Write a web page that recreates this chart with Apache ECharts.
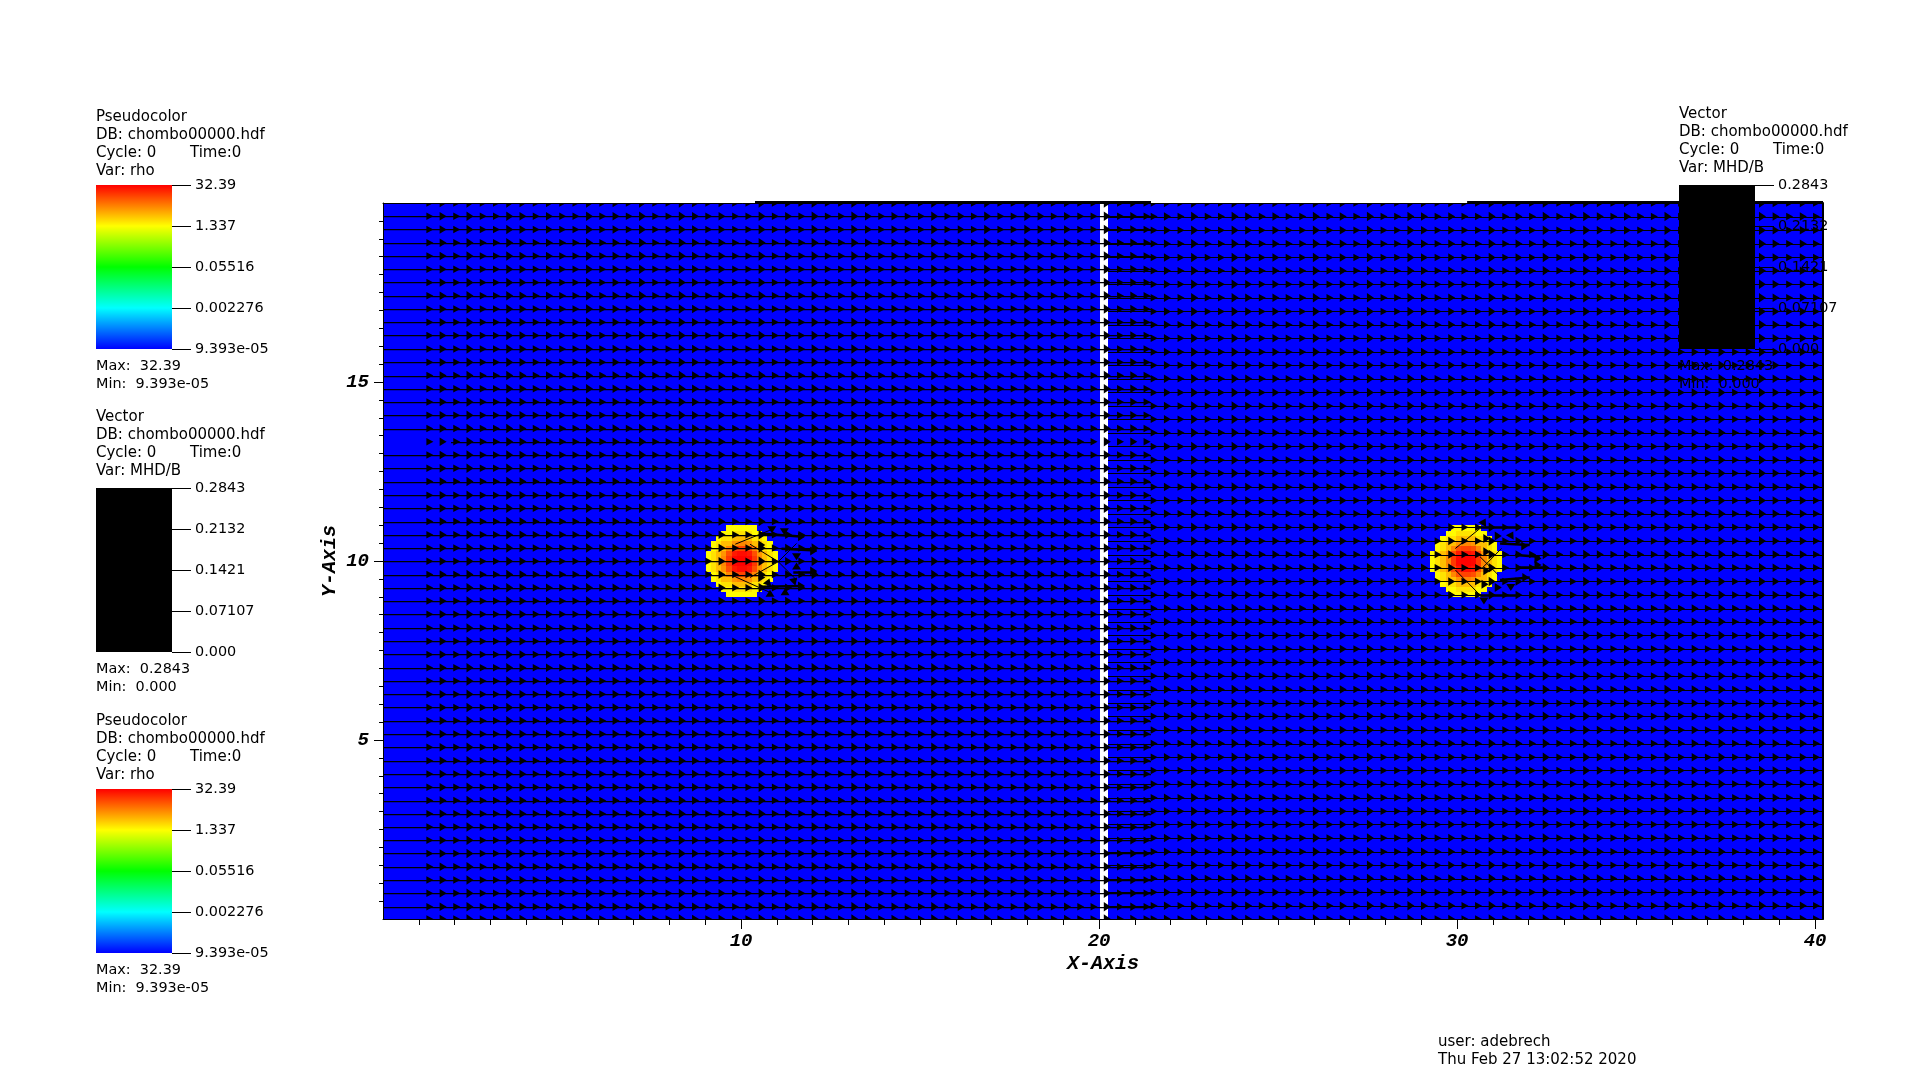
<!DOCTYPE html>
<html><head><meta charset="utf-8">
<style>html,body{margin:0;padding:0;background:#fff}#c{width:1920px;height:1082px}</style>
<script src="https://cdn.jsdelivr.net/npm/echarts@6/dist/echarts.min.js"></script>
</head><body><div id="c"></div>
<script>
// ---------- data ----------
const RHO_MIN = 9.393e-5, RHO_MAX = 32.39;
const RHO_TICKS = ['9.393e-05','0.002276','0.05516','1.337','32.39'];
const B_TICKS = ['0.000','0.07107','0.1421','0.2132','0.2843'];
const X_TICKS = [10,20,30,40];
const Y_TICKS = [5,10,15];
// mesh patches with the background density [x0,y0,x1,y1]
const PATCHES = [[0,0,20.03,20],[20.25,0,40.22,20]];
// density cells of one blob (rows bottom to top, 0 = no cell)
const BLOB_RHO = [
 [0,0,0,0,1.4,1.4,1.4,1.4,1.4,1.4,0,0,0,0],
 [0,0,0,1.4,1.4,1.9,1.9,1.9,1.9,1.4,1.4,0,0,0],
 [0,0,1.4,1.9,1.9,3,3,3,3,1.9,1.9,1.4,0,0],
 [0,1.4,1.9,3,3,5,6,6,5,3,3,1.9,1.4,0],
 [0,1.4,1.9,3,6,12,14,14,12,6,3,1.9,1.4,0],
 [1.4,1.9,3,5,12,24,28,28,24,12,5,3,1.9,1.4],
 [1.4,1.9,3,6,16,30,32,32,30,16,6,3,1.9,1.4],
 [1.4,1.9,3,6,16,30,32,32,30,16,6,3,1.9,1.4],
 [1.4,1.9,3,5,12,24,28,28,24,12,5,3,1.9,1.4],
 [0,1.4,1.9,3,6,12,14,14,12,6,3,1.9,1.4,0],
 [0,1.4,1.9,3,3,5,6,6,5,3,3,1.9,1.4,0],
 [0,0,1.4,1.9,1.9,3,3,3,3,1.9,1.9,1.4,0,0],
 [0,0,0,1.4,1.4,1.9,1.9,1.9,1.9,1.4,1.4,0,0,0],
 [0,0,0,0,1.4,1.4,1.4,1.4,1.4,1.4,0,0,0,0]
];
const BLOB_ORIGINS = [[9.02,8.99],[29.25,8.99]];
const BLOB_CELL = 0.143;
// vector rows / columns of the two mesh levels
const LEFT_ROWS = [0.34,0.72,1.09,1.46,1.83,2.2,2.57,2.94,3.31,3.68,4.05,4.42,4.80,5.17,5.54,5.91,6.28,6.65,7.02,7.39,7.76,8.13,8.51,8.88,9.25,9.62,9.99,10.36,10.73,11.10,11.47,11.84,12.22,12.59,12.96,13.33,13.70,14.07,14.44,14.81,15.18,15.55,15.92,16.30,16.67,17.04,17.41,17.78,18.15,18.52,18.89,19.26,19.63];
const RIGHT_ROWS = [0.37,0.75,1.13,1.50,1.88,2.26,2.64,3.01,3.39,3.77,4.15,4.52,4.90,5.28,5.66,6.03,6.41,6.79,7.17,7.54,7.92,8.30,8.67,9.05,9.43,9.81,10.18,10.56,10.94,11.32,11.69,12.07,12.45,12.82,13.20,13.58,13.96,14.33,14.71,15.09,15.47,15.84,16.22,16.60,16.97,17.35,17.73,18.11,18.48,18.86,19.24,19.62];
const LEFT_COLS = [1.31,1.68,2.06,2.43,2.80,3.17,3.54,3.91,4.28,4.65,5.02,5.39,5.77,6.14,6.51,6.88,7.25,7.62,7.99,8.36,8.73,9.10,9.47,9.85,10.22,10.59,10.96,11.33,11.70,12.07,12.44,12.81,13.18,13.56,13.93,14.30,14.67,15.04,15.41,15.78,16.15,16.52,16.89,17.26,17.63,18.01,18.38,18.75,19.12,19.49,19.86,20.23,20.60,20.97,21.34];
const RIGHT_COLS = [21.54,21.91,22.29,22.67,23.05,23.42,23.80,24.18,24.56,24.94,25.31,25.69,26.07,26.45,26.82,27.20,27.58,27.96,28.34,28.71,29.09,29.47,29.85,30.22,30.60,30.98,31.36,31.73,32.11,32.49,32.87,33.25,33.62,34.00,34.38,34.76,35.13,35.51,35.89,36.27,36.65,37.02,37.40,37.78,38.16,38.53,38.91,39.29,39.67,40.04];
const LEFT_SPAN = [0,21.45], RIGHT_SPAN = [20.25,40.22];
const SHORT_ROW = 13.33, SHORT_SPAN = [1.9,19.8];
const TOP_SEGMENTS = [[10.39,21.45],[30.28,40.22]];
// vectors that deviate around the two blobs
const BLOB_STEMS = [
 [9.84,10.47,10.86,10.88],[10.25,10.47,11.04,9.98],[11.04,9.98,11.55,9.47],[9.84,9.56,10.86,9.10],
 [10.25,9.54,11.04,9.98],[11.04,9.98,11.55,10.49],
 [29.95,10.35,30.64,10.91],[30.64,10.12,31.15,9.61],[31.24,10.35,30.69,9.79],[29.95,9.75,30.64,9.05]
];
const BLOB_WAKES = [
 [10.53,10.77,11.74,10.68],[10.53,9.28,11.74,9.30],[11.13,10.34,12.11,10.29],[11.46,9.70,12.11,9.70],
 [31.20,10.49,32.03,10.45],[31.20,9.47,32.03,9.54],[31.62,10.17,32.31,10.12],[31.66,9.84,32.40,9.84],
 [30.64,9.05,31.75,9.05],[30.64,10.96,31.75,10.96]
];
const BLOB_HEADS = [
 [10.86,10.87,180],[11.21,10.82,180],[11.55,10.12,180],[11.55,9.86,0],[12.03,10.28,-90],[12.03,9.72,-90],[11.50,9.47,-45],
 [11.23,9.14,0],[10.81,9.10,0],[10.76,9.42,-20],[10.58,10.45,-90],[10.58,9.54,-90],[11.69,10.68,-90],[11.69,9.30,-90],
 [30.75,11.10,-30],[31.52,10.74,-30],[31.15,10.70,-90],[31.89,10.42,-90],[30.83,10.63,-90],[30.83,10.26,-90],[30.83,9.73,-90],
 [30.78,9.35,-90],[31.15,9.26,-90],[31.50,9.26,180],[31.92,9.54,-90],[30.75,8.88,180],[32.26,10.07,-90],[32.26,9.89,-90]
];
const HEAD_CYCLE = [7.5,8.5,7.5,9.5,7.5,7.5,9.5,8.5,7.5,8.5,7.5,7.5,9.5];
const USER_TEXT = ['user: adebrech','Thu Feb 27 13:02:52 2020'];

// ---------- legends ----------
const TEXT_FONT = '15px "DejaVu Sans"';
const VALUE_FONT = '14.4px "DejaVu Sans"';
const MONO = '"Liberation Mono"';
const LEGENDS = [
 {x:96, y:185, titleDy:-67.5, kind:'Pseudocolor', v:'rho', ticks:RHO_TICKS, max:'32.39', min:'9.393e-05', grad:true},
 {x:96, y:488, titleDy:-71, kind:'Vector', v:'MHD/B', ticks:B_TICKS, max:'0.2843', min:'0.000', grad:false},
 {x:96, y:789, titleDy:-67.5, kind:'Pseudocolor', v:'rho', ticks:RHO_TICKS, max:'32.39', min:'9.393e-05', grad:true},
 {x:1679, y:185, titleDy:-71, kind:'Vector', v:'MHD/B', ticks:B_TICKS, max:'0.2843', min:'0.000', grad:false}
];

const STOPS = [[0,[0,0,255]],[.25,[0,255,255]],[.5,[0,255,0]],[.75,[255,255,0]],[1,[255,0,0]]];
function rhoColor(r){
  const t = Math.min(1,Math.max(0,Math.log(r/RHO_MIN)/Math.log(RHO_MAX/RHO_MIN)));
  for(let i=1;i<STOPS.length;i++){ if(t<=STOPS[i][0]){
    const a=STOPS[i-1],b=STOPS[i],f=(t-a[0])/(b[0]-a[0]);
    return 'rgb('+a[1].map((c,k)=>Math.round(c+(b[1][k]-c)*f)).join(',')+')';
  }}
  return 'rgb(255,0,0)';
}

// cells: [x0,y0,x1,y1,rho]
const cells = PATCHES.map(p=>[p[0],p[1],p[2],p[3],RHO_MIN]);
BLOB_ORIGINS.forEach(o=>BLOB_RHO.forEach((row,j)=>row.forEach((v,i)=>{
  if(v) cells.push([o[0]+i*BLOB_CELL,o[1]+j*BLOB_CELL,o[0]+(i+1)*BLOB_CELL,o[1]+(j+1)*BLOB_CELL,v]);
})));

// stems: [x0,y0,x1,y1,width]
const stems = [];
LEFT_ROWS.forEach(y=>{
  const s = y===SHORT_ROW ? SHORT_SPAN : LEFT_SPAN;
  stems.push([s[0],y,s[1],y,1.25]);
});
RIGHT_ROWS.forEach(y=>stems.push([RIGHT_SPAN[0],y,RIGHT_SPAN[1],y,1]));
BLOB_STEMS.forEach(s=>stems.push([s[0],s[1],s[2],s[3],1]));
BLOB_WAKES.forEach(s=>stems.push([s[0],s[1],s[2],s[3],2.5]));
TOP_SEGMENTS.forEach(s=>stems.push([s[0],20.03,s[1],20.03,2]));

// heads: [x,y,rotation,size]
const heads = [];
[0,...LEFT_ROWS,20].forEach(y=>LEFT_COLS.forEach((x,i)=>heads.push([x,y,-90,HEAD_CYCLE[i%HEAD_CYCLE.length]])));
[0,...RIGHT_ROWS,20].forEach(y=>RIGHT_COLS.forEach((x,i)=>heads.push([x,y,-90,HEAD_CYCLE[i%HEAD_CYCLE.length]])));
BLOB_HEADS.forEach(h=>heads.push([h[0],h[1],h[2],9]));

const grids=[{left:383,top:203,width:1440,height:716}];
const xAxes=[
 {gridIndex:0,type:'value',min:0,max:40.22,interval:10,position:'bottom',z:10,
  axisLine:{show:true,onZero:false,lineStyle:{color:'#000',width:1}},
  axisTick:{show:true,length:10,lineStyle:{color:'#000',width:1},customValues:X_TICKS},
  minorTick:{show:true,splitNumber:10,length:6,lineStyle:{color:'#000',width:1}},
  splitLine:{show:false},
  axisLabel:{show:true,margin:13,color:'#000',fontFamily:MONO,fontWeight:'bold',fontStyle:'italic',fontSize:19,
    customValues:X_TICKS,formatter:v=>String(v)},
  name:'X-Axis',nameLocation:'middle',nameGap:34.5,nameMoveOverlap:false,
  nameTextStyle:{color:'#000',fontFamily:MONO,fontWeight:'bold',fontStyle:'italic',fontSize:20}},
 {gridIndex:0,type:'value',min:0,max:40.22,position:'top',z:10,axisLine:{show:true,onZero:false,lineStyle:{color:'#000',width:1}},
  axisTick:{show:false},axisLabel:{show:false},splitLine:{show:false}}
];
const yAxes=[
 {gridIndex:0,type:'value',min:0,max:20,interval:5,position:'left',z:10,
  axisLine:{show:true,onZero:false,lineStyle:{color:'#000',width:1}},
  axisTick:{show:true,length:9,lineStyle:{color:'#000',width:1},customValues:Y_TICKS},
  minorTick:{show:true,splitNumber:10,length:4,lineStyle:{color:'#000',width:1}},
  splitLine:{show:false},
  axisLabel:{show:true,margin:14,color:'#000',fontFamily:MONO,fontWeight:'bold',fontStyle:'italic',fontSize:19,
    customValues:Y_TICKS,formatter:v=>String(v)},
  name:'Y-Axis',nameLocation:'middle',nameGap:43,nameMoveOverlap:false,
  nameTextStyle:{color:'#000',fontFamily:MONO,fontWeight:'bold',fontStyle:'italic',fontSize:20}},
 {gridIndex:0,type:'value',min:0,max:20,position:'right',z:10,axisLine:{show:true,onZero:false,lineStyle:{color:'#000',width:2}},
  axisTick:{show:false},axisLabel:{show:false},splitLine:{show:false}}
];

const HEAD_LEN = 7;
const series=[
 {type:'custom',name:'rho',xAxisIndex:0,yAxisIndex:0,z:2,clip:true,silent:true,
  data:cells,encode:{x:[0,2],y:[1,3]},
  renderItem(p,api){
    const a=api.coord([api.value(0),api.value(1)]),b=api.coord([api.value(2),api.value(3)]);
    const x=Math.round(a[0]),X=Math.round(b[0]),y=Math.round(b[1]),Y=Math.round(a[1]);
    return {type:'rect',shape:{x:x,y:y,width:X-x,height:Y-y},style:{fill:rhoColor(api.value(4)),stroke:null}};
  }},
 {type:'custom',name:'stems',xAxisIndex:0,yAxisIndex:0,z:3,clip:false,silent:true,
  data:stems,encode:{x:[0,2],y:[1,3]},
  renderItem(p,api){
    const a=api.coord([api.value(0),api.value(1)]),b=api.coord([api.value(2),api.value(3)]);
    const w=api.value(4),horiz=a[1]===b[1],off=(w%2)?0.5:0;
    const y1=horiz?Math.round(a[1])+off:a[1],y2=horiz?Math.round(b[1])+off:b[1];
    return {type:'line',shape:{x1:a[0],y1:y1,x2:b[0],y2:y2},style:{stroke:'#000',lineWidth:w}};
  }},
 {type:'custom',name:'heads',xAxisIndex:0,yAxisIndex:0,z:4,silent:true,
  data:heads,encode:{x:0,y:1},
  renderItem(p,api){
    const c=api.coord([api.value(0),api.value(1)]),s=api.value(3)/2,l=HEAD_LEN/2;
    const th=api.value(2)*Math.PI/180,cs=Math.cos(th),sn=Math.sin(th);
    const pts=[[0,-l],[s,l],[-s,l]].map(q=>[c[0]+q[0]*cs+q[1]*sn,c[1]-q[0]*sn+q[1]*cs]);
    return {type:'polygon',shape:{points:echarts.graphic.clipPointsByRect(pts,p.coordSys)},style:{fill:'#000'}};
  }}
];

const graphics=[];
function addText(text,x,y,font){
  graphics.push({type:'text',z:20,x:x,y:y,silent:true,
    style:{text:text,font:font||TEXT_FONT,fill:'#000',verticalAlign:'middle',align:'left'}});
}
LEGENDS.forEach((L,i)=>{
  const gi=i+1, ai=i+2; // the main grid owns two x and two y axes
  grids.push({left:L.x,top:L.y,width:76,height:164});
  xAxes.push({gridIndex:gi,type:'value',min:0,max:1,show:false});
  yAxes.push({gridIndex:gi,type:'category',position:'right',boundaryGap:false,data:L.ticks,z:12,
    axisLine:{show:false,onZero:false},axisTick:{show:true,length:19,lineStyle:{color:'#000',width:1}},
    splitLine:{show:false},
    axisLabel:{show:true,interval:0,margin:23,color:'#000',fontFamily:'DejaVu Sans',fontSize:14.4,padding:[2,0,0,0]}});
  series.push({type:'custom',xAxisIndex:ai,yAxisIndex:ai,z:11,silent:true,data:[[0,0]],
    renderItem(p,api){
      const cs=p.coordSys;
      const fill=L.grad?new echarts.graphic.LinearGradient(0,1,0,0,
        STOPS.map(s=>({offset:s[0],color:'rgb('+s[1].join(',')+')'}))):'#000';
      return {type:'rect',shape:{x:cs.x,y:cs.y,width:cs.width,height:cs.height},style:{fill:fill}};
    }});
  const t=L.y+L.titleDy;
  addText(L.kind,L.x,t);
  addText('DB: chombo00000.hdf',L.x,t+18);
  addText('Cycle: 0',L.x,t+36);
  addText('Time:0',L.x+94,t+36);
  addText('Var: '+L.v,L.x,t+54);
  addText('Max:  '+L.max,L.x,L.y+181,VALUE_FONT);
  addText('Min:  '+L.min,L.x,L.y+199,VALUE_FONT);
});
addText(USER_TEXT[0],1438,1042);
addText(USER_TEXT[1],1438,1060.5);

const chart=echarts.init(document.getElementById('c'),null,{renderer:'canvas'});
chart.setOption({animation:false,backgroundColor:'#fff',grid:grids,xAxis:xAxes,yAxis:yAxes,series:series,graphic:graphics});
</script></body></html>
